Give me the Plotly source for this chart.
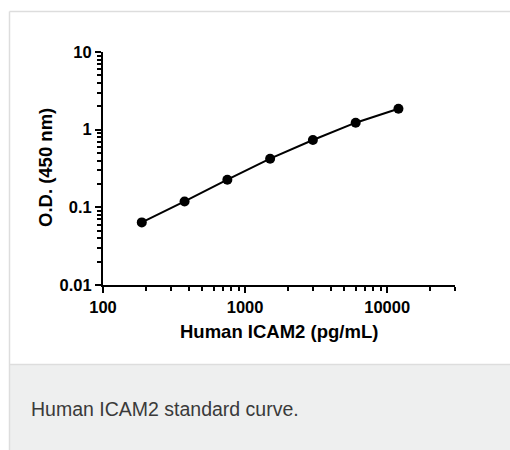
import plotly.graph_objects as go
import math

concentration = [187.5, 375, 750, 1500, 3000, 6000, 12000]
od_450 = [0.064, 0.119, 0.227, 0.423, 0.736, 1.23, 1.86]

x_tickvals = [100, 1000, 10000]
x_ticktext = ["100", "1000", "10000"]
x_minor = [200, 300, 400, 500, 600, 700, 800, 900,
           2000, 3000, 4000, 5000, 6000, 7000, 8000, 9000, 20000, 30000]
y_tickvals = [0.01, 0.1, 1, 10]
y_ticktext = ["0.01", "0.1", "1", "10"]
y_minor = [m * d for d in [0.01, 0.1, 1] for m in range(2, 10)]

x_title = "Human ICAM2 (pg/mL)"
y_title = "O.D. (450 nm)"
caption = "Human ICAM2 standard curve."

W, H = 510, 450
AX_L, AX_R, AX_T, AX_B = 103, 455, 52, 285   # page pixels of the plot area
L, R, T, B = AX_L, W - AX_R, AX_T, H - AX_B
pw, ph = W - L - R, H - T - B


def px(x):
    return (x - L) / pw


def py(y):
    return (H - B - y) / ph


fig = go.Figure()
fig.add_trace(go.Scatter(
    x=concentration, y=od_450, mode="lines+markers",
    line=dict(color="black", width=2),
    marker=dict(color="black", size=10),
    showlegend=False, hoverinfo="skip",
))

# card background / caption area
border = dict(color="#dddddd", width=1.5)
fig.add_shape(type="rect", xref="paper", yref="paper",
              x0=px(9), x1=px(W + 30), y0=py(365), y1=py(H + 30),
              line=dict(width=0), fillcolor="#eeefef", layer="below")
fig.add_shape(type="line", xref="paper", yref="paper",
              x0=px(9.5), x1=px(W + 30), y0=py(11.5), y1=py(11.5), line=border, layer="below")
fig.add_shape(type="line", xref="paper", yref="paper",
              x0=px(9.5), x1=px(9.5), y0=py(11.5), y1=py(H + 30), line=border, layer="below")
fig.add_shape(type="line", xref="paper", yref="paper",
              x0=px(9.5), x1=px(W + 30), y0=py(364.5), y1=py(364.5), line=border, layer="below")
fig.add_annotation(text=caption, xref="paper", yref="paper",
                   x=px(29), y=py(409), xanchor="left", yanchor="middle",
                   showarrow=False,
                   font=dict(family="Liberation Sans, Arial", size=19.5, color="#3a3a3a"))

bold = dict(family="Liberation Sans, Arial", color="black", weight="bold")
fig.add_annotation(text=x_title, xref="paper", yref="paper",
                   x=px(279), y=py(331), xanchor="center", yanchor="middle",
                   showarrow=False, font=dict(bold, size=18.5))
fig.add_annotation(text=y_title, xref="paper", yref="paper",
                   x=px(45), y=py(168), xanchor="center", yanchor="middle",
                   textangle=-90, showarrow=False, font=dict(bold, size=18.5))

common = dict(
    type="log", tickmode="array",
    ticks="outside", ticklen=6, tickwidth=2, tickcolor="black",
    showline=True, linecolor="black", linewidth=2, showgrid=False, zeroline=False,
    tickfont=dict(bold, size=16.5),
)
fig.update_xaxes(
    range=[2, math.log10(30000)], tickvals=x_tickvals, ticktext=x_ticktext,
    minor=dict(tickmode="array", tickvals=x_minor, ticks="outside", ticklen=4,
               tickwidth=2, tickcolor="black", showgrid=False),
    **common,
)
fig.update_yaxes(
    range=[-2, 1], tickvals=y_tickvals, ticktext=y_ticktext,
    minor=dict(tickmode="array", tickvals=y_minor, ticks="outside", ticklen=4,
               tickwidth=2, tickcolor="black", showgrid=False),
    **common,
)
fig.update_layout(
    width=W, height=H,
    margin=dict(l=L, r=R, t=T, b=B, pad=0),
    paper_bgcolor="white", plot_bgcolor="rgba(0,0,0,0)",
)
fig.write_html("out.html", config={"displayModeBar": False},
               post_script="document.body.style.margin='0';"
                           "document.body.style.overflow='hidden';")
